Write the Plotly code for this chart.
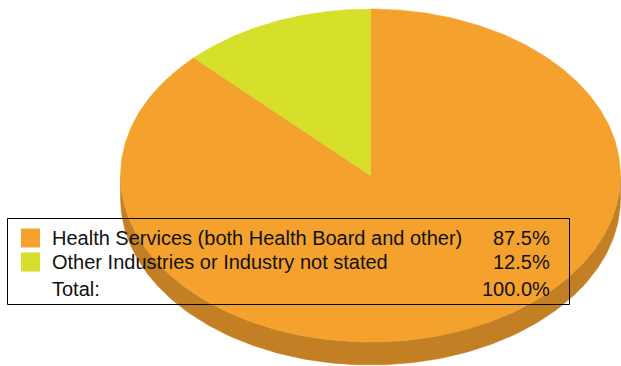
import numpy as np
import plotly.graph_objects as go

# ---- data ----
labels = ["Health Services (both Health Board and other)", "Other Industries or Industry not stated"]
values = [87.5, 12.5]
top_colors = ["#F4A22D", "#D6DF29"]
side_colors = ["#C27F24", "#A8AF1F"]
total_label = "Total:"

# ---- geometry (pixels, screen coords) ----
W, H = 621, 366
cx, cy = 370.5, 175.5
rx, ry = 250.0, 166.5
depth = 23.0
font = "Liberation Sans, Arial, sans-serif"

def pt(theta_deg, dy=0.0):
    t = np.radians(theta_deg)
    return cx + rx * np.sin(t), cy - ry * np.cos(t) + dy

fig = go.Figure()

total = sum(values)
angles = [0.0]
for v in values:
    angles.append(angles[-1] + 360.0 * v / total)

# side walls (front half: 90..270 deg clockwise from top)
for i in range(len(values)):
    a, b = max(angles[i], 90.0), min(angles[i + 1], 270.0)
    if b <= a:
        continue
    th = np.linspace(a, b, 200)
    x1, y1 = pt(th)
    x2, y2 = pt(th[::-1], depth)
    xs = np.concatenate([x1, x2, x1[:1]])
    ys = np.concatenate([y1, y2, y1[:1]])
    fig.add_trace(go.Scatter(x=xs, y=ys, fill="toself", mode="lines",
                             line=dict(width=0.5, color=side_colors[i]),
                             fillcolor=side_colors[i], hoverinfo="skip", showlegend=False))

# top faces
for i in range(len(values)):
    th = np.linspace(angles[i], angles[i + 1], 400)
    x, y = pt(th)
    xs = np.concatenate([[cx], x, [cx]])
    ys = np.concatenate([[cy], y, [cy]])
    fig.add_trace(go.Scatter(x=xs, y=ys, fill="toself", mode="lines",
                             line=dict(width=0.5, color=top_colors[i]),
                             fillcolor=top_colors[i], hoverinfo="text",
                             text=f"{labels[i]}: {values[i]:.1f}%", showlegend=False))

# ---- legend box ----
box_x0, box_x1, box_y0, box_y1 = 7.5, 569.5, 218.5, 304.5
fig.add_shape(type="rect", x0=box_x0, x1=box_x1, y0=box_y0, y1=box_y1,
              line=dict(color="#000000", width=1), fillcolor="rgba(0,0,0,0)")

row_y = [238.0, 262.0, 289.0]
fs = 20
for i, lab in enumerate(labels):
    fig.add_shape(type="rect", x0=21, x1=40, y0=row_y[i] - 9.5, y1=row_y[i] + 9.5,
                  line=dict(width=0), fillcolor=top_colors[i])
    fig.add_annotation(x=50, y=row_y[i], text=lab, showarrow=False, xanchor="left",
                       yanchor="middle", font=dict(family=font, size=fs, color="#111111"))
    fig.add_annotation(x=552, y=row_y[i], text=f"{values[i]:.1f}%", showarrow=False,
                       xanchor="right", yanchor="middle",
                       font=dict(family=font, size=fs, color="#111111"))
fig.add_annotation(x=50, y=row_y[2], text=total_label, showarrow=False, xanchor="left",
                   yanchor="middle", font=dict(family=font, size=fs, color="#111111"))
fig.add_annotation(x=552, y=row_y[2], text=f"{total:.1f}%", showarrow=False,
                   xanchor="right", yanchor="middle",
                   font=dict(family=font, size=fs, color="#111111"))

fig.update_layout(
    width=W, height=H, autosize=False,
    margin=dict(l=0, r=0, t=0, b=0, pad=0),
    paper_bgcolor="white", plot_bgcolor="white",
    xaxis=dict(range=[0, W], visible=False, fixedrange=True),
    yaxis=dict(range=[H, 0], visible=False, fixedrange=True),
    showlegend=False,
)

fig.write_html("out.html", config={"displayModeBar": False},
               post_script="document.body.style.margin='0';document.body.style.overflow='hidden';")
